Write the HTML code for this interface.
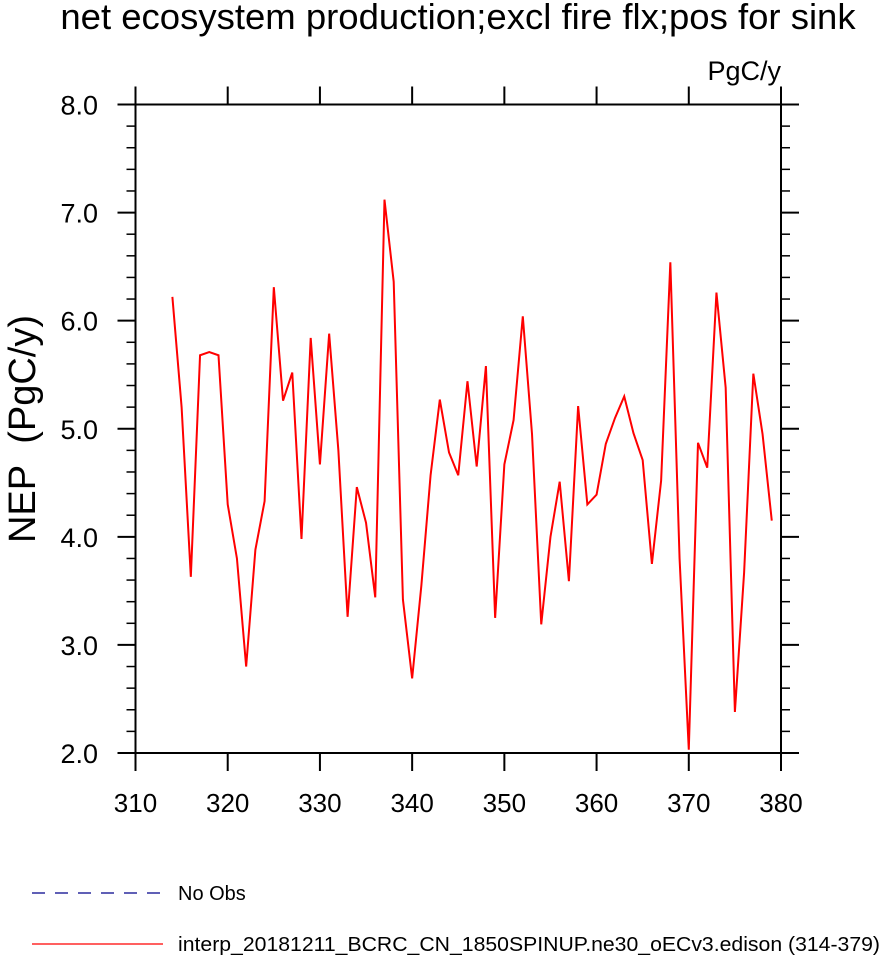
<!DOCTYPE html>
<html><head><meta charset="utf-8"><style>body{margin:0;background:#fff}svg{display:block;font-family:"Liberation Sans",Arial,sans-serif}</style></head>
<body>
<svg id="chart" width="881" height="958"></svg>
<script>
const years=[314,315,316,317,318,319,320,321,322,323,324,325,326,327,328,329,330,331,332,333,334,335,336,337,338,339,340,341,342,343,344,345,346,347,348,349,350,351,352,353,354,355,356,357,358,359,360,361,362,363,364,365,366,367,368,369,370,371,372,373,374,375,376,377,378,379];
const nep=[6.22,5.2,3.63,5.68,5.71,5.68,4.3,3.8,2.8,3.88,4.33,6.31,5.26,5.52,3.98,5.84,4.67,5.88,4.8,3.26,4.46,4.13,3.44,7.12,6.36,3.42,2.69,3.55,4.57,5.27,4.78,4.57,5.44,4.65,5.58,3.25,4.67,5.08,6.04,4.95,3.19,4.0,4.51,3.59,5.21,4.3,4.39,4.86,5.1,5.3,4.96,4.71,3.75,4.52,6.54,3.8,2.03,4.87,4.64,6.26,5.38,2.38,3.67,5.51,4.95,4.15];
const xTicks=[310,320,330,340,350,360,370,380];
const yTicks=["2.0","3.0","4.0","5.0","6.0","7.0","8.0"];
const svg=document.getElementById('chart');
const NS='http://www.w3.org/2000/svg';
const L=135.5,R=781,T=104.5,B=753;
const xs=v=>L+(v-310)/70*(R-L);
const ys=v=>B-(v-2)/6*(B-T);
function mk(tag,attrs,name,text){const e=document.createElementNS(NS,tag);for(const k in attrs)e.setAttribute(k,attrs[k]);


if(text!==undefined)e.textContent=text;svg.appendChild(e);return e;}
mk('text',{x:458,y:29,'font-size':36.5,'text-anchor':'middle'},'chart-title','net ecosystem production;excl fire flx;pos for sink');
mk('text',{x:781,y:80,'font-size':27,'text-anchor':'end'},'units-label','PgC/y');
const yt=mk('text',{x:0,y:0,'font-size':38,'text-anchor':'middle',transform:'translate(35,429) rotate(-90)'},'y-axis-title','NEP\u00a0\u00a0(PgC/y)');
xTicks.forEach(t=>{const x=xs(t);
mk('line',{x1:x,x2:x,y1:B,y2:B+18,stroke:'#000','stroke-width':2},'x-tick');
mk('line',{x1:x,x2:x,y1:T,y2:T-18,stroke:'#000','stroke-width':2},'x-tick-top');
mk('text',{x:x,y:B+59,'font-size':26,'text-anchor':'middle'},'x-tick-label',t);});
yTicks.forEach(t=>{const y=ys(+t);
mk('line',{x1:L,x2:L-18,y1:y,y2:y,stroke:'#000','stroke-width':2},'y-tick');
mk('line',{x1:R,x2:R+18,y1:y,y2:y,stroke:'#000','stroke-width':2},'y-tick-right');
mk('text',{x:98,y:y+10,'font-size':27,'text-anchor':'end'},'y-tick-label',t);});
for(let v=2.2;v<8;v+=0.2){if(Math.abs(v-Math.round(v))<0.01)continue;const y=ys(v);
mk('line',{x1:L,x2:L-9,y1:y,y2:y,stroke:'#000','stroke-width':1.5},'y-minor-tick');
mk('line',{x1:R,x2:R+9,y1:y,y2:y,stroke:'#000','stroke-width':1.5},'y-minor-tick-right');}
mk('rect',{x:L,y:T,width:R-L,height:B-T,fill:'none',stroke:'#000','stroke-width':2},'plot-frame');
mk('polyline',{points:years.map((y,i)=>xs(y)+','+ys(nep[i])).join(' '),fill:'none',stroke:'#f00','stroke-width':2},'nep-series-line');
mk('line',{x1:32,x2:163,y1:893,y2:893,stroke:'#00008b','stroke-width':1.3,'stroke-dasharray':'13,10'},'legend-no-obs-line');
mk('text',{x:178,y:900,'font-size':20},'legend-no-obs-label','No Obs');
mk('line',{x1:32,x2:163,y1:944,y2:944,stroke:'#f00','stroke-width':1.3},'legend-model-line');
mk('text',{x:178,y:951,'font-size':20,textLength:702,lengthAdjust:'spacingAndGlyphs'},'legend-model-label','interp_20181211_BCRC_CN_1850SPINUP.ne30_oECv3.edison (314-379)');
</script>
</body></html>
